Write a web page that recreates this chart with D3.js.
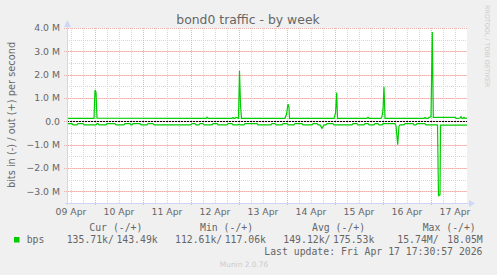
<!DOCTYPE html>
<html>
<head>
<meta charset="utf-8">
<script src="https://cdn.jsdelivr.net/npm/d3@7"></script>
<style>
  html, body { margin: 0; padding: 0; background: #f0f0f0; }
  svg { display: block; }
  text { font-family: "DejaVu Sans", sans-serif; fill: #666; }
  .mono { font-family: "DejaVu Sans Mono", monospace; }
</style>
</head>
<body>
<svg id="chart" width="497" height="275"></svg>
<script>
// hours after 2026-04-09 10:00 UTC, bits per second
const outHours = [0, 13.5, 14, 14.5, 15, 69.5, 70, 70.5, 82.5, 83, 83.5, 84, 84.5, 85, 85.75, 86.25, 86.75, 87.25,
  109, 109.75, 110.5, 111, 111.25, 133.5, 134.25, 134.85, 135.25, 150, 150.5, 151, 157, 157.5, 158, 158.5, 159,
  178.5, 179, 179.5, 180.5, 181, 181.5, 182, 182.65, 183.15, 194, 194.5, 196.5, 197, 197.5, 198, 198.5, 199, 200];
const outBps = [130e3, 130e3, 1340e3, 1250e3, 135e3, 130e3, 180e3, 130e3, 130e3, 160e3, 130e3, 130e3, 170e3, 160e3, 130e3, 2160e3, 700e3, 130e3,
  130e3, 300e3, 740e3, 600e3, 130e3, 130e3, 350e3, 1230e3, 130e3, 130e3, 170e3, 130e3, 130e3, 200e3, 500e3, 1480e3, 130e3,
  130e3, 160e3, 130e3, 130e3, 170e3, 180e3, 200e3, 3830e3, 170e3, 170e3, 130e3, 140e3, 200e3, 130e3, 130e3, 170e3, 130e3, 140e3];

const inHours = [0, 2.5, 3, 5, 5.5, 8, 8.5, 14.5, 15, 15.5, 16, 19.5, 20, 24, 24.5, 28.5, 29, 31.5, 32, 32.5, 33, 36.5, 37, 40, 40.5, 43, 43.5,
  62, 62.5, 64, 64.5, 66, 66.5, 68, 68.5, 72.5, 73, 75, 75.5, 80, 80.5, 82.5, 83, 85.5, 86, 86.5, 88.5, 89, 95, 95.5,
  102, 102.5, 104, 104.5, 107.5, 108, 110, 110.5, 113.5, 114, 117.5, 118, 122.5, 123, 125, 125.5, 126.5, 127.5, 128.5, 129.5, 130, 133, 133.5,
  142.5, 143, 145, 145.5, 148.5, 149, 150.5, 151, 153.5, 154, 155.5, 156, 157.5, 158, 164, 164.5, 165.35, 166, 166.5, 168.5, 169,
  173, 173.5, 174.5, 175, 179, 179.5, 185.25, 185.75, 186.5, 186.75, 200];
const inBps = [-100e3, -100e3, -150e3, -150e3, -100e3, -100e3, -150e3, -150e3, -100e3, -100e3, -150e3, -150e3, -100e3, -100e3, -150e3, -150e3, -100e3, -100e3, -150e3, -150e3, -100e3, -100e3, -150e3, -150e3, -100e3, -100e3, -150e3,
  -150e3, -100e3, -100e3, -150e3, -150e3, -100e3, -100e3, -150e3, -150e3, -100e3, -100e3, -150e3, -150e3, -100e3, -100e3, -150e3, -150e3, -120e3, -150e3, -150e3, -100e3, -100e3, -150e3,
  -150e3, -100e3, -100e3, -150e3, -150e3, -100e3, -100e3, -150e3, -150e3, -100e3, -100e3, -150e3, -150e3, -100e3, -100e3, -150e3, -150e3, -300e3, -150e3, -150e3, -100e3, -100e3, -150e3,
  -150e3, -100e3, -100e3, -150e3, -150e3, -100e3, -100e3, -150e3, -150e3, -100e3, -100e3, -150e3, -150e3, -100e3, -100e3, -200e3, -1000e3, -200e3, -150e3, -150e3, -100e3,
  -100e3, -150e3, -150e3, -100e3, -100e3, -150e3, -150e3, -3190e3, -3150e3, -160e3, -160e3];

const yTicks = [-3e6, -2e6, -1e6, 0, 1e6, 2e6, 3e6, 4e6];
const legendHeads = ['Cur (-/+)', 'Min (-/+)', 'Avg (-/+)', 'Max (-/+)'];
const legendIn = ['135.71k/', '112.61k/', '149.12k/', '15.74M/'];
const legendOut = ['143.49k', '117.06k', '175.53k', '18.05M'];

const svg = d3.select('#chart');
const margin = { top: 28, left: 67, right: 30, bottom: 72 };
const plotW = 400, plotH = 175;

const t0 = Date.UTC(2026, 3, 9, 10, 0);
const hourMs = 3600e3;
const x = d3.scaleUtc()
    .domain([new Date(t0), new Date(t0 + 200 * hourMs)])
    .range([margin.left, margin.left + plotW]);
const y = d3.scaleLinear()
    .domain([-3.5e6, 4e6])
    .range([margin.top + plotH, margin.top]);

// canvas
svg.append('rect')
    .attr('x', margin.left).attr('y', margin.top)
    .attr('width', plotW).attr('height', plotH)
    .attr('fill', '#fff');

const grid = svg.append('g').attr('shape-rendering', 'crispEdges');
const minorX = d3.utcHour.every(6).range(x.domain()[0], x.domain()[1]);
const majorX = d3.utcDay.range(x.domain()[0], x.domain()[1]);
const minorY = d3.range(-7, 8).map(d => d * 0.5e6);

grid.selectAll('.mx').data(minorX).enter().append('line')
    .attr('x1', d => Math.round(x(d)) + 0.5).attr('x2', d => Math.round(x(d)) + 0.5)
    .attr('y1', margin.top).attr('y2', margin.top + plotH)
    .attr('stroke', '#d6d6d6').attr('stroke-dasharray', '1,1');
grid.selectAll('.my').data(minorY).enter().append('line')
    .attr('x1', margin.left).attr('x2', margin.left + plotW)
    .attr('y1', d => Math.round(y(d)) + 0.5).attr('y2', d => Math.round(y(d)) + 0.5)
    .attr('stroke', '#d6d6d6').attr('stroke-dasharray', '1,1');
grid.selectAll('.Mx').data(majorX).enter().append('line')
    .attr('x1', d => Math.round(x(d)) + 0.5).attr('x2', d => Math.round(x(d)) + 0.5)
    .attr('y1', margin.top).attr('y2', margin.top + plotH + 3)
    .attr('stroke', '#f0b0b0').attr('stroke-dasharray', '1,1');
grid.selectAll('.My').data(yTicks).enter().append('line')
    .attr('x1', margin.left - 3).attr('x2', margin.left + plotW)
    .attr('y1', d => Math.round(y(d)) + 0.5).attr('y2', d => Math.round(y(d)) + 0.5)
    .attr('stroke', '#f0b0b0').attr('stroke-dasharray', '1,1');

// axis labels
svg.append('g').selectAll('text').data(yTicks).enter().append('text')
    .attr('x', 60).attr('y', d => y(d) + 3.4)
    .attr('text-anchor', 'end').attr('font-size', 9.3)
    .text(d => d === 0 ? '0.0' : d3.format('.1f')(d / 1e6) + ' M');

const noons = majorX.map(d => d3.utcHour.offset(d, 12)).filter(d => d < x.domain()[1]);
noons.unshift(new Date(Date.UTC(2026, 3, 9, 12)));
svg.append('g').selectAll('text').data(noons).enter().append('text')
    .attr('x', d => x(d)).attr('y', 214.6)
    .attr('text-anchor', 'middle').attr('font-size', 9.3)
    .text(d => d3.utcFormat('%d %b')(d));

// zero line
svg.append('line')
    .attr('x1', margin.left).attr('x2', margin.left + plotW)
    .attr('y1', Math.round(y(0)) + 0.5).attr('y2', Math.round(y(0)) + 0.5)
    .attr('stroke', '#000').attr('stroke-dasharray', '2,1')
    .attr('shape-rendering', 'crispEdges');

// series
const line = d3.line()
    .x(d => x(new Date(t0 + d[0] * hourMs)))
    .y(d => y(d[1]));
svg.append('path')
    .datum(d3.zip(inHours, inBps))
    .attr('d', line).attr('fill', 'none')
    .attr('stroke', '#00cc00').attr('stroke-width', 1.2);
svg.append('path')
    .datum(d3.zip(outHours, outBps))
    .attr('d', line).attr('fill', 'none')
    .attr('stroke', '#00cc00').attr('stroke-width', 1.2);

// axes with arrows
const axisColor = '#cfd6f8';
svg.append('line')
    .attr('x1', margin.left - 2).attr('x2', margin.left + plotW + 2)
    .attr('y1', margin.top + plotH + 0.5).attr('y2', margin.top + plotH + 0.5)
    .attr('stroke', axisColor);
svg.append('line')
    .attr('x1', margin.left + 0.5).attr('x2', margin.left + 0.5)
    .attr('y1', margin.top + plotH + 2).attr('y2', margin.top - 2)
    .attr('stroke', axisColor);
svg.append('path')
    .attr('d', `M${margin.left + plotW + 2},${margin.top + plotH - 3}l6,3.5l-6,3.5z`)
    .attr('fill', axisColor);
svg.append('path')
    .attr('d', `M${margin.left - 3},${margin.top - 1}l3.5,-7l3.5,7z`)
    .attr('fill', axisColor);

// titles
svg.append('text')
    .attr('x', 248).attr('y', 23.5).attr('text-anchor', 'middle')
    .attr('font-size', 12.4)
    .text('bond0 traffic - by week');
svg.append('text')
    .attr('transform', 'translate(14.5,115) rotate(-90)')
    .attr('text-anchor', 'middle').attr('font-size', 9.8)
    .text('bits in (-) / out (+) per second');
svg.append('text')
    .attr('transform', 'translate(485,5) rotate(90)')
    .attr('font-size', 6.4).style('fill', '#cccccc')
    .text('RRDTOOL / TOBI OETIKER');

// legend
const lg = svg.append('g').attr('class', 'mono');
const headX = [89.3, 200, 312, 422.7];
const inX = [66.7, 175, 283.3, 397.3];
const outEnd = [157.7, 266, 374.3, 482.7];
lg.selectAll('.h').data(legendHeads).enter().append('text')
    .attr('class', 'mono').attr('x', (d, i) => headX[i]).attr('y', 231)
    .attr('font-size', 9.8).text(d => d);
lg.selectAll('.vi').data(legendIn).enter().append('text')
    .attr('class', 'mono').attr('x', (d, i) => inX[i]).attr('y', 243)
    .attr('font-size', 9.8).text(d => d);
lg.selectAll('.vo').data(legendOut).enter().append('text')
    .attr('class', 'mono').attr('x', (d, i) => outEnd[i]).attr('y', 243)
    .attr('text-anchor', 'end').attr('font-size', 9.8).text(d => d);
lg.append('rect')
    .attr('x', 14).attr('y', 237).attr('width', 5.5).attr('height', 5.5)
    .attr('fill', '#00cc00');
lg.append('text').attr('class', 'mono')
    .attr('x', 26.7).attr('y', 243).attr('font-size', 9.8).text('bps');
lg.append('text').attr('class', 'mono')
    .attr('x', 482.5).attr('y', 254.5).attr('text-anchor', 'end')
    .attr('font-size', 9.8).text('Last update: Fri Apr 17 17:30:57 2026');

svg.append('text')
    .attr('x', 244).attr('y', 267).attr('text-anchor', 'middle')
    .attr('font-size', 7.4).style('fill', '#cccccc')
    .text('Munin 2.0.76');
</script>
</body>
</html>
